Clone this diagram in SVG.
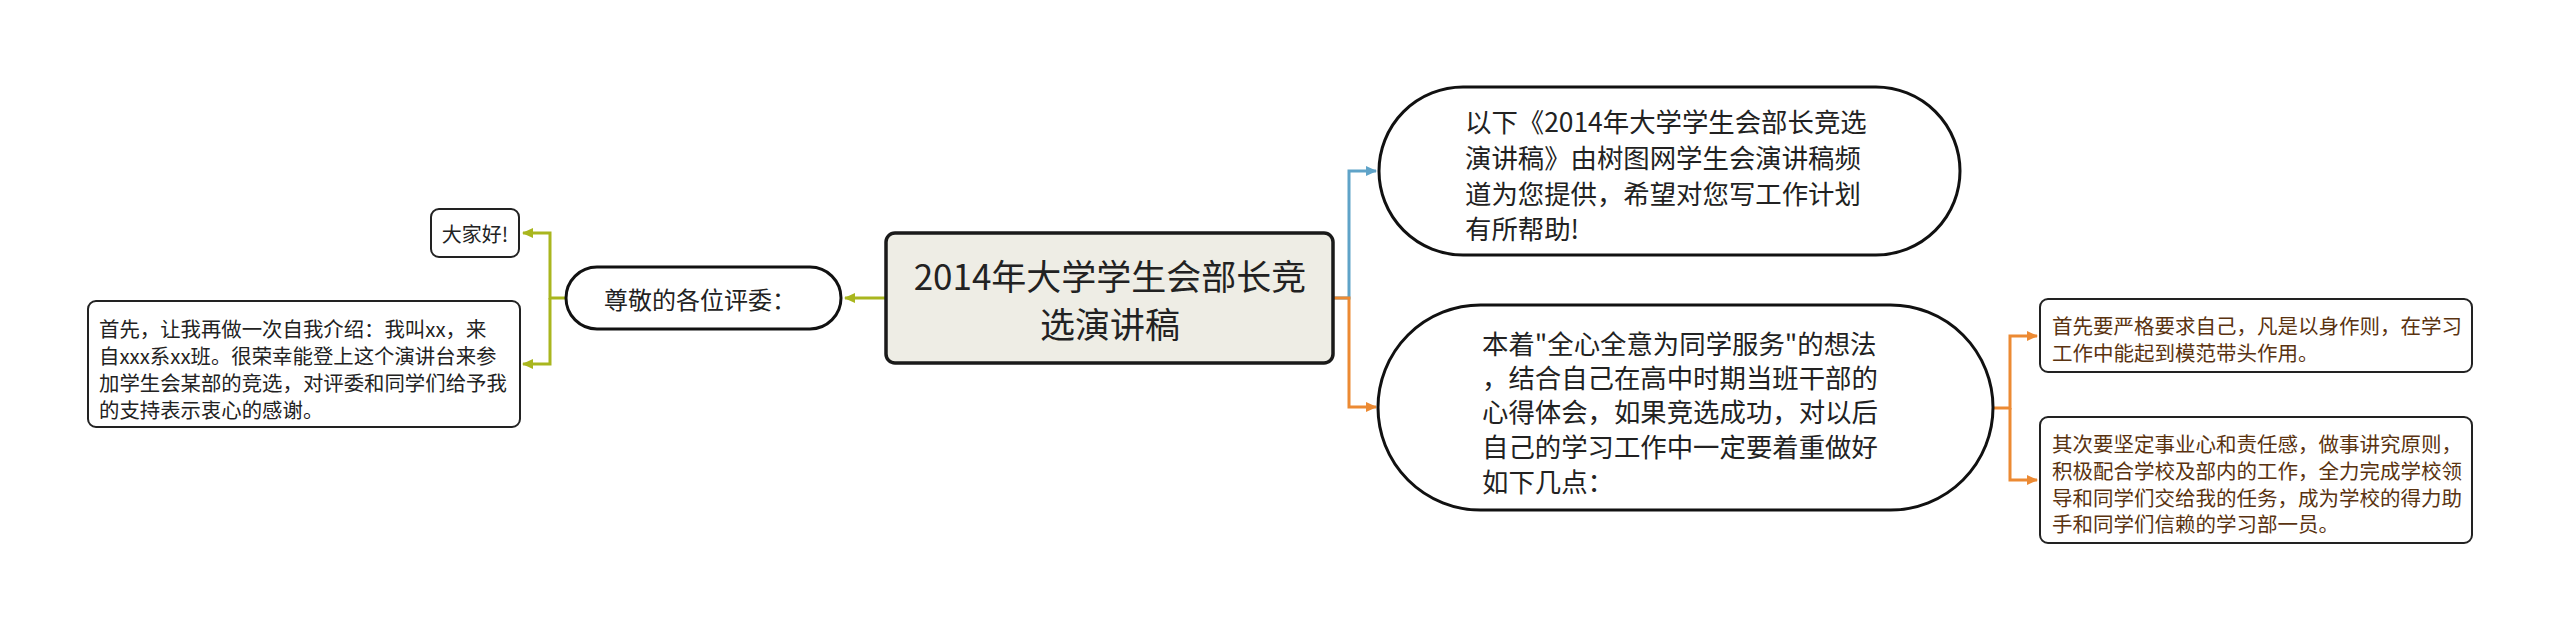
<svg xmlns="http://www.w3.org/2000/svg" width="2560" height="631" viewBox="0 0 2560 631">
<style>
.t{font-family:"Noto Sans CJK SC","Noto Sans",sans-serif;fill:#222;dominant-baseline:central}
.pill{fill:#fff;stroke:#111;stroke-width:3}
.box{fill:#fff;stroke:#222;stroke-width:2}
.root{fill:#EEEDE5;stroke:#1a1a1a;stroke-width:3.5}
.c{fill:none;stroke-width:3}
.g{stroke:#A9B61E}
.b{stroke:#5FA3C8}
.o{stroke:#EC8A33}
.br{fill:#5a3310}
</style>
<defs>
<marker id="ag" markerUnits="userSpaceOnUse" markerWidth="12" markerHeight="12" refX="10" refY="6" orient="auto"><path d="M0,1 L11,6 L0,11 z" fill="#A9B61E"/></marker>
<marker id="ab" markerUnits="userSpaceOnUse" markerWidth="12" markerHeight="12" refX="10" refY="6" orient="auto"><path d="M0,1 L11,6 L0,11 z" fill="#5FA3C8"/></marker>
<marker id="ao" markerUnits="userSpaceOnUse" markerWidth="12" markerHeight="12" refX="10" refY="6" orient="auto"><path d="M0,1 L11,6 L0,11 z" fill="#EC8A33"/></marker>
</defs>
<rect width="2560" height="631" fill="#fff"/>
<g id="connectors">
<path class="c g" d="M886,298 H845" marker-end="url(#ag)"/>
<path class="c g" d="M566,298 H550 V233 H523" marker-end="url(#ag)"/>
<path class="c g" d="M550,298 V364 H523" marker-end="url(#ag)"/>
<path class="c b" d="M1333,298 H1349 V171 H1376" marker-end="url(#ab)"/>
<path class="c o" d="M1333,298 H1349 V407 H1376" marker-end="url(#ao)"/>
<path class="c o" d="M1993,408 H2010 V336 H2037" marker-end="url(#ao)"/>
<path class="c o" d="M2010,408 V480 H2037" marker-end="url(#ao)"/>
</g>
<g id="root">
<rect class="root" x="886" y="233" width="447" height="130" rx="9"/>
<text class="t" x="1110" y="274" font-size="35" text-anchor="middle" fill="#333">2014年大学学生会部长竞</text>
<text class="t" x="1110" y="322" font-size="35" text-anchor="middle" fill="#333">选演讲稿</text>
</g>
<g id="n-judges">
<rect class="pill" x="566" y="267" width="275" height="62" rx="31"/>
<text class="t" x="700" y="298" font-size="24" text-anchor="middle">尊敬的各位评委：</text>
</g>
<g id="n-hello">
<rect class="box" x="431" y="209" width="88" height="48" rx="8"/>
<text class="t" x="475" y="233" font-size="20" text-anchor="middle">大家好!</text>
</g>
<g id="n-intro">
<rect class="box" x="88" y="301" width="432" height="126" rx="8"/>
<text class="t" font-size="20.4"><tspan x="99" y="328">首先，让我再做一次自我介绍：我叫xx，来</tspan><tspan x="99" y="355">自xxx系xx班。很荣幸能登上这个演讲台来参</tspan><tspan x="99" y="382">加学生会某部的竞选，对评委和同学们给予我</tspan><tspan x="99" y="409">的支持表示衷心的感谢。</tspan></text>
</g>
<g id="n-top">
<rect class="pill" x="1379" y="87" width="581" height="168" rx="84"/>
<text class="t" font-size="26.4"><tspan x="1465" y="120">以下《2014年大学学生会部长竞选</tspan><tspan x="1465" y="156">演讲稿》由树图网学生会演讲稿频</tspan><tspan x="1465" y="192">道为您提供，希望对您写工作计划</tspan><tspan x="1465" y="227">有所帮助!</tspan></text>
</g>
<g id="n-bottom">
<rect class="pill" x="1378" y="305" width="615" height="205" rx="102.5"/>
<text class="t" font-size="26.4"><tspan x="1482" y="342">本着"全心全意为同学服务"的想法</tspan><tspan x="1482" y="376">，结合自己在高中时期当班干部的</tspan><tspan x="1482" y="410">心得体会，如果竞选成功，对以后</tspan><tspan x="1482" y="445">自己的学习工作中一定要着重做好</tspan><tspan x="1482" y="480">如下几点：</tspan></text>
</g>
<g id="n-first">
<rect class="box" x="2040" y="299" width="432" height="73" rx="8"/>
<text class="t br" font-size="20.5"><tspan x="2052" y="325">首先要严格要求自己，凡是以身作则，在学习</tspan><tspan x="2052" y="352">工作中能起到模范带头作用。</tspan></text>
</g>
<g id="n-second">
<rect class="box" x="2040" y="417" width="432" height="126" rx="8"/>
<text class="t br" font-size="20.5"><tspan x="2052" y="443">其次要坚定事业心和责任感，做事讲究原则，</tspan><tspan x="2052" y="470">积极配合学校及部内的工作，全力完成学校领</tspan><tspan x="2052" y="497">导和同学们交给我的任务，成为学校的得力助</tspan><tspan x="2052" y="523">手和同学们信赖的学习部一员。</tspan></text>
</g>
</svg>
